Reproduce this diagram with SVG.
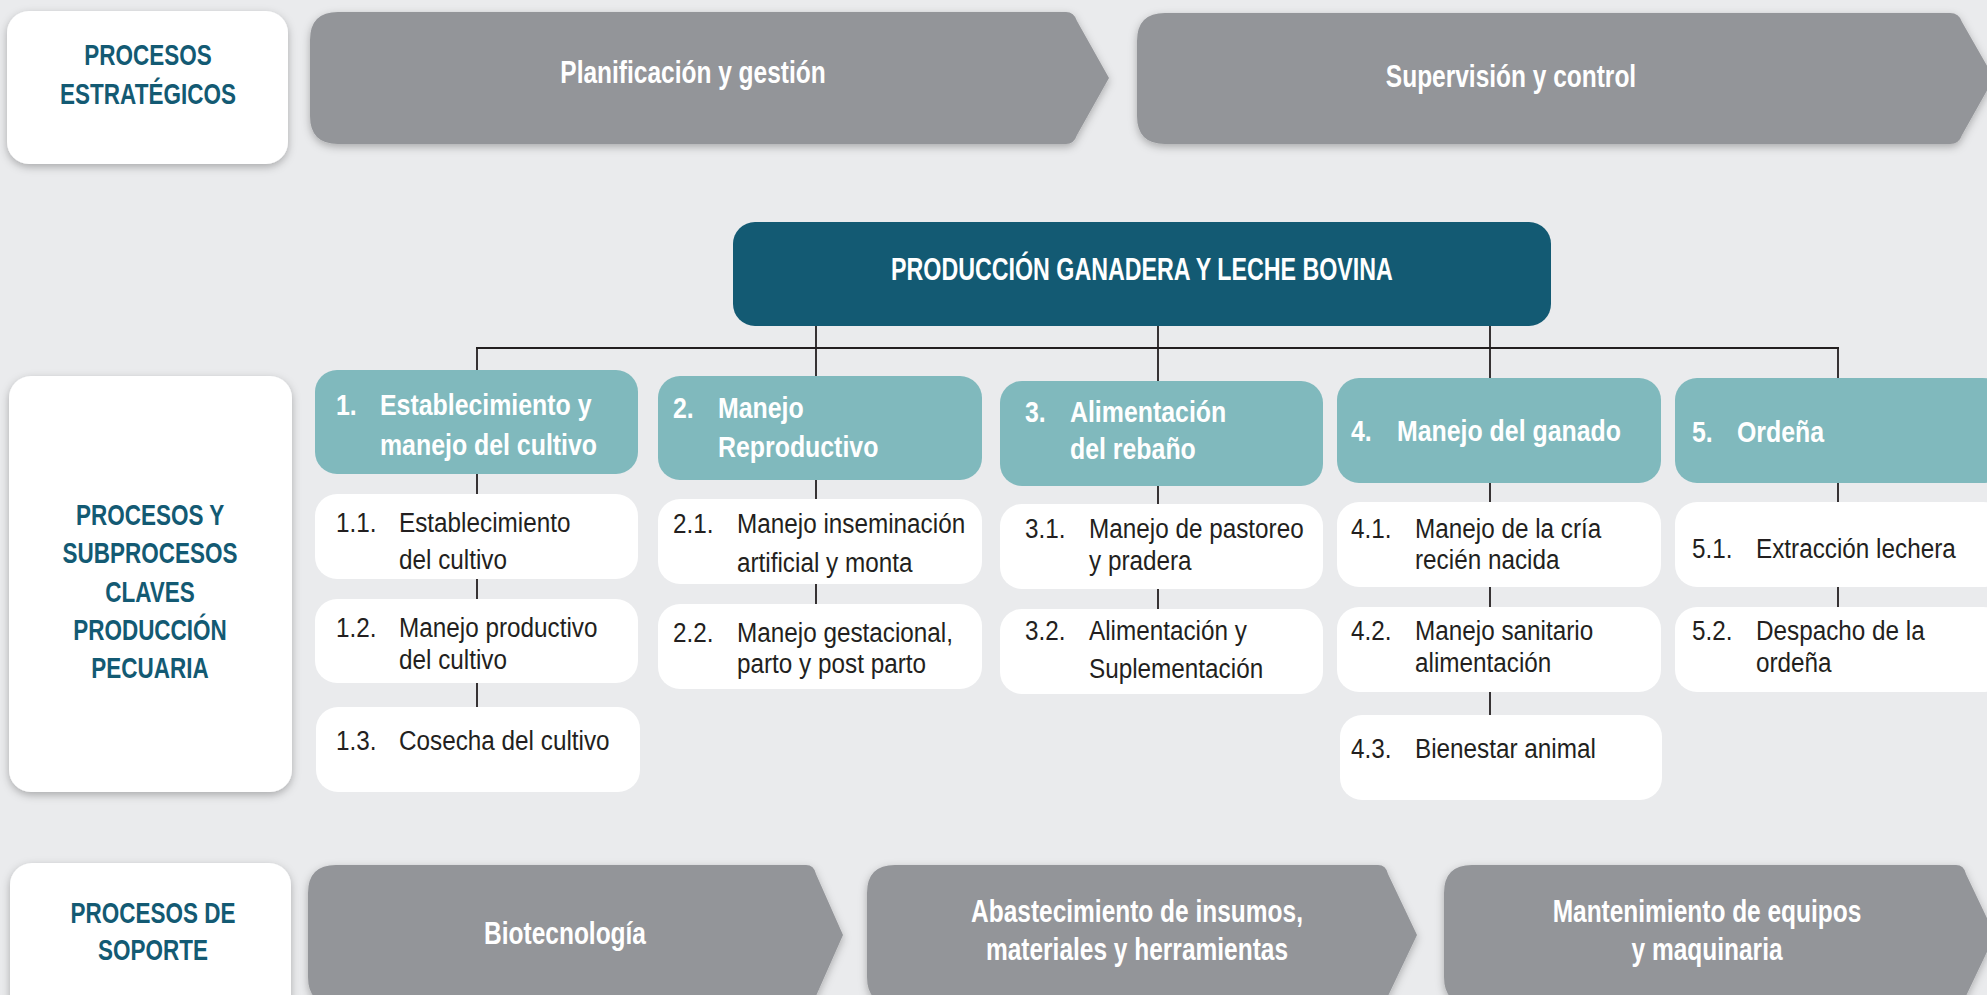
<svg xmlns="http://www.w3.org/2000/svg" width="1987" height="995" viewBox="0 0 1987 995">
<defs>
<filter id="sh" x="-10%" y="-20%" width="120%" height="150%">
<feDropShadow dx="0" dy="3" stdDeviation="4" flood-color="#000" flood-opacity="0.28"/>
</filter>
<style>
.bg{fill:#eaebed}
.arrow{fill:#939599;filter:url(#sh)}
.label{fill:#ffffff;filter:url(#sh)}
.main{fill:#135a73}
.cat{fill:#80b9bd}
.sub{fill:#ffffff}
.conn{stroke:#231f20;stroke-width:1.8;fill:none}
text{font-family:"Liberation Sans Narrow","Liberation Sans",Arial,sans-serif;transform-box:fill-box}
.lt{font-weight:bold;font-size:29.5px;fill:#135a73;text-anchor:middle;transform-origin:center;transform:scaleX(0.763)}
.at{font-weight:bold;font-size:31px;fill:#ffffff;text-anchor:middle;transform-origin:center;transform:scaleX(0.79)}
.mt{font-weight:bold;font-size:30.5px;fill:#ffffff;text-anchor:middle;transform-origin:center;transform:scaleX(0.762)}
.ct{font-weight:bold;font-size:30px;fill:#ffffff;transform-origin:left center;transform:scaleX(0.83)}
.st{font-size:27px;fill:#231f20;transform-origin:left center;transform:scaleX(0.9)}
</style>
</defs>
<rect class="bg" x="0" y="0" width="1987" height="995"/>

<g id="connectors">
<line class="conn" x1="476" y1="348" x2="1839" y2="348"/>
<line class="conn" x1="477" y1="348" x2="477" y2="707"/>
<line class="conn" x1="816" y1="326" x2="816" y2="604"/>
<line class="conn" x1="1158" y1="326" x2="1158" y2="609"/>
<line class="conn" x1="1490" y1="326" x2="1490" y2="715"/>
<line class="conn" x1="1838" y1="348" x2="1838" y2="607"/>
</g>

<g id="label-estrategicos">
<rect class="label" x="7" y="11" width="281" height="153" rx="22"/>
<text class="lt" x="148" y="65">PROCESOS</text>
<text class="lt" x="148" y="104">ESTRATÉGICOS</text>
</g>
<g id="planificacion">
<path class="arrow" d="M338,12 H1066 Q1074,12 1077,21 L1109,78 L1077,135 Q1074,144 1066,144 H338 Q310,144 310,116 V40 Q310,12 338,12 Z"/>
<text class="at" x="693" y="83">Planificación y gestión</text>
</g>
<g id="supervision">
<path class="arrow" d="M1165,13 H1950 Q1959,13 1962,22 L1994,78 L1962,135 Q1959,144 1950,144 H1165 Q1137,144 1137,116 V41 Q1137,13 1165,13 Z"/>
<text class="at" x="1511" y="87">Supervisión y control</text>
</g>

<g id="main-node">
<rect class="main" x="733" y="222" width="818" height="104" rx="22"/>
<text class="mt" x="1142" y="280">PRODUCCIÓN GANADERA Y LECHE BOVINA</text>
</g>

<g id="label-claves">
<rect class="label" x="9" y="376" width="283" height="416" rx="22"/>
<text class="lt" x="150" y="525">PROCESOS Y</text>
<text class="lt" x="150" y="563">SUBPROCESOS</text>
<text class="lt" x="150" y="602">CLAVES</text>
<text class="lt" x="150" y="640">PRODUCCIÓN</text>
<text class="lt" x="150" y="678">PECUARIA</text>
</g>

<g id="cat1">
<rect class="cat" x="315" y="370" width="323" height="104" rx="22"/>
<text class="ct" x="336" y="415">1.</text>
<text class="ct" x="380" y="415">Establecimiento y</text>
<text class="ct" x="380" y="455">manejo del cultivo</text>
</g>
<g id="sub1-1">
<rect class="sub" x="315" y="494" width="323" height="85" rx="22"/>
<text class="st" x="336" y="532">1.1.</text>
<text class="st" x="399" y="532">Establecimiento</text>
<text class="st" x="399" y="569">del cultivo</text>
</g>
<g id="sub1-2">
<rect class="sub" x="315" y="599" width="323" height="84" rx="22"/>
<text class="st" x="336" y="637">1.2.</text>
<text class="st" x="399" y="637">Manejo productivo</text>
<text class="st" x="399" y="669">del cultivo</text>
</g>
<g id="sub1-3">
<rect class="sub" x="316" y="707" width="324" height="85" rx="22"/>
<text class="st" x="336" y="750">1.3.</text>
<text class="st" x="399" y="750">Cosecha del cultivo</text>
</g>

<g id="cat2">
<rect class="cat" x="658" y="376" width="324" height="104" rx="22"/>
<text class="ct" x="673" y="418">2.</text>
<text class="ct" x="718" y="418">Manejo</text>
<text class="ct" x="718" y="457">Reproductivo</text>
</g>
<g id="sub2-1">
<rect class="sub" x="658" y="499" width="324" height="85" rx="22"/>
<text class="st" x="673" y="533">2.1.</text>
<text class="st" x="737" y="533">Manejo inseminación</text>
<text class="st" x="737" y="572">artificial y monta</text>
</g>
<g id="sub2-2">
<rect class="sub" x="658" y="604" width="324" height="85" rx="22"/>
<text class="st" x="673" y="642">2.2.</text>
<text class="st" x="737" y="642">Manejo gestacional,</text>
<text class="st" x="737" y="673">parto y post parto</text>
</g>

<g id="cat3">
<rect class="cat" x="1000" y="381" width="323" height="105" rx="22"/>
<text class="ct" x="1025" y="422">3.</text>
<text class="ct" x="1070" y="422">Alimentación</text>
<text class="ct" x="1070" y="459">del rebaño</text>
</g>
<g id="sub3-1">
<rect class="sub" x="1000" y="504" width="323" height="85" rx="22"/>
<text class="st" x="1025" y="538">3.1.</text>
<text class="st" x="1089" y="538">Manejo de pastoreo</text>
<text class="st" x="1089" y="570">y pradera</text>
</g>
<g id="sub3-2">
<rect class="sub" x="1000" y="609" width="323" height="85" rx="22"/>
<text class="st" x="1025" y="640">3.2.</text>
<text class="st" x="1089" y="640">Alimentación y</text>
<text class="st" x="1089" y="678">Suplementación</text>
</g>

<g id="cat4">
<rect class="cat" x="1337" y="378" width="324" height="105" rx="22"/>
<text class="ct" x="1351" y="441">4.</text>
<text class="ct" x="1397" y="441">Manejo del ganado</text>
</g>
<g id="sub4-1">
<rect class="sub" x="1337" y="502" width="324" height="85" rx="22"/>
<text class="st" x="1351" y="538">4.1.</text>
<text class="st" x="1415" y="538">Manejo de la cría</text>
<text class="st" x="1415" y="569">recién nacida</text>
</g>
<g id="sub4-2">
<rect class="sub" x="1337" y="607" width="324" height="85" rx="22"/>
<text class="st" x="1351" y="640">4.2.</text>
<text class="st" x="1415" y="640">Manejo sanitario</text>
<text class="st" x="1415" y="672">alimentación</text>
</g>
<g id="sub4-3">
<rect class="sub" x="1340" y="715" width="322" height="85" rx="22"/>
<text class="st" x="1351" y="758">4.3.</text>
<text class="st" x="1415" y="758">Bienestar animal</text>
</g>

<g id="cat5">
<rect class="cat" x="1675" y="378" width="330" height="105" rx="22"/>
<text class="ct" x="1692" y="442">5.</text>
<text class="ct" x="1737" y="442">Ordeña</text>
</g>
<g id="sub5-1">
<rect class="sub" x="1675" y="502" width="330" height="85" rx="22"/>
<text class="st" x="1692" y="558">5.1.</text>
<text class="st" x="1756" y="558">Extracción lechera</text>
</g>
<g id="sub5-2">
<rect class="sub" x="1675" y="607" width="330" height="85" rx="22"/>
<text class="st" x="1692" y="640">5.2.</text>
<text class="st" x="1756" y="640">Despacho de la</text>
<text class="st" x="1756" y="672">ordeña</text>
</g>

<g id="label-soporte">
<rect class="label" x="10" y="863" width="281" height="160" rx="22"/>
<text class="lt" x="153" y="923">PROCESOS DE</text>
<text class="lt" x="153" y="960">SOPORTE</text>
</g>
<g id="biotecnologia">
<path class="arrow" d="M336,865 H806 Q814,865 816,874 L843,935 L816,996 Q814,1005 806,1005 H336 Q308,1005 308,977 V893 Q308,865 336,865 Z"/>
<text class="at" x="565" y="944">Biotecnología</text>
</g>
<g id="abastecimiento">
<path class="arrow" d="M895,865 H1378 Q1386,865 1388,874 L1417,935 L1388,996 Q1386,1005 1378,1005 H895 Q867,1005 867,977 V893 Q867,865 895,865 Z"/>
<text class="at" x="1137" y="922">Abastecimiento de insumos,</text>
<text class="at" x="1137" y="960">materiales y herramientas</text>
</g>
<g id="mantenimiento">
<path class="arrow" d="M1472,865 H1956 Q1964,865 1966,874 L1995,935 L1966,996 Q1964,1005 1956,1005 H1472 Q1444,1005 1444,977 V893 Q1444,865 1472,865 Z"/>
<text class="at" x="1707" y="922">Mantenimiento de equipos</text>
<text class="at" x="1707" y="960">y maquinaria</text>
</g>
</svg>
